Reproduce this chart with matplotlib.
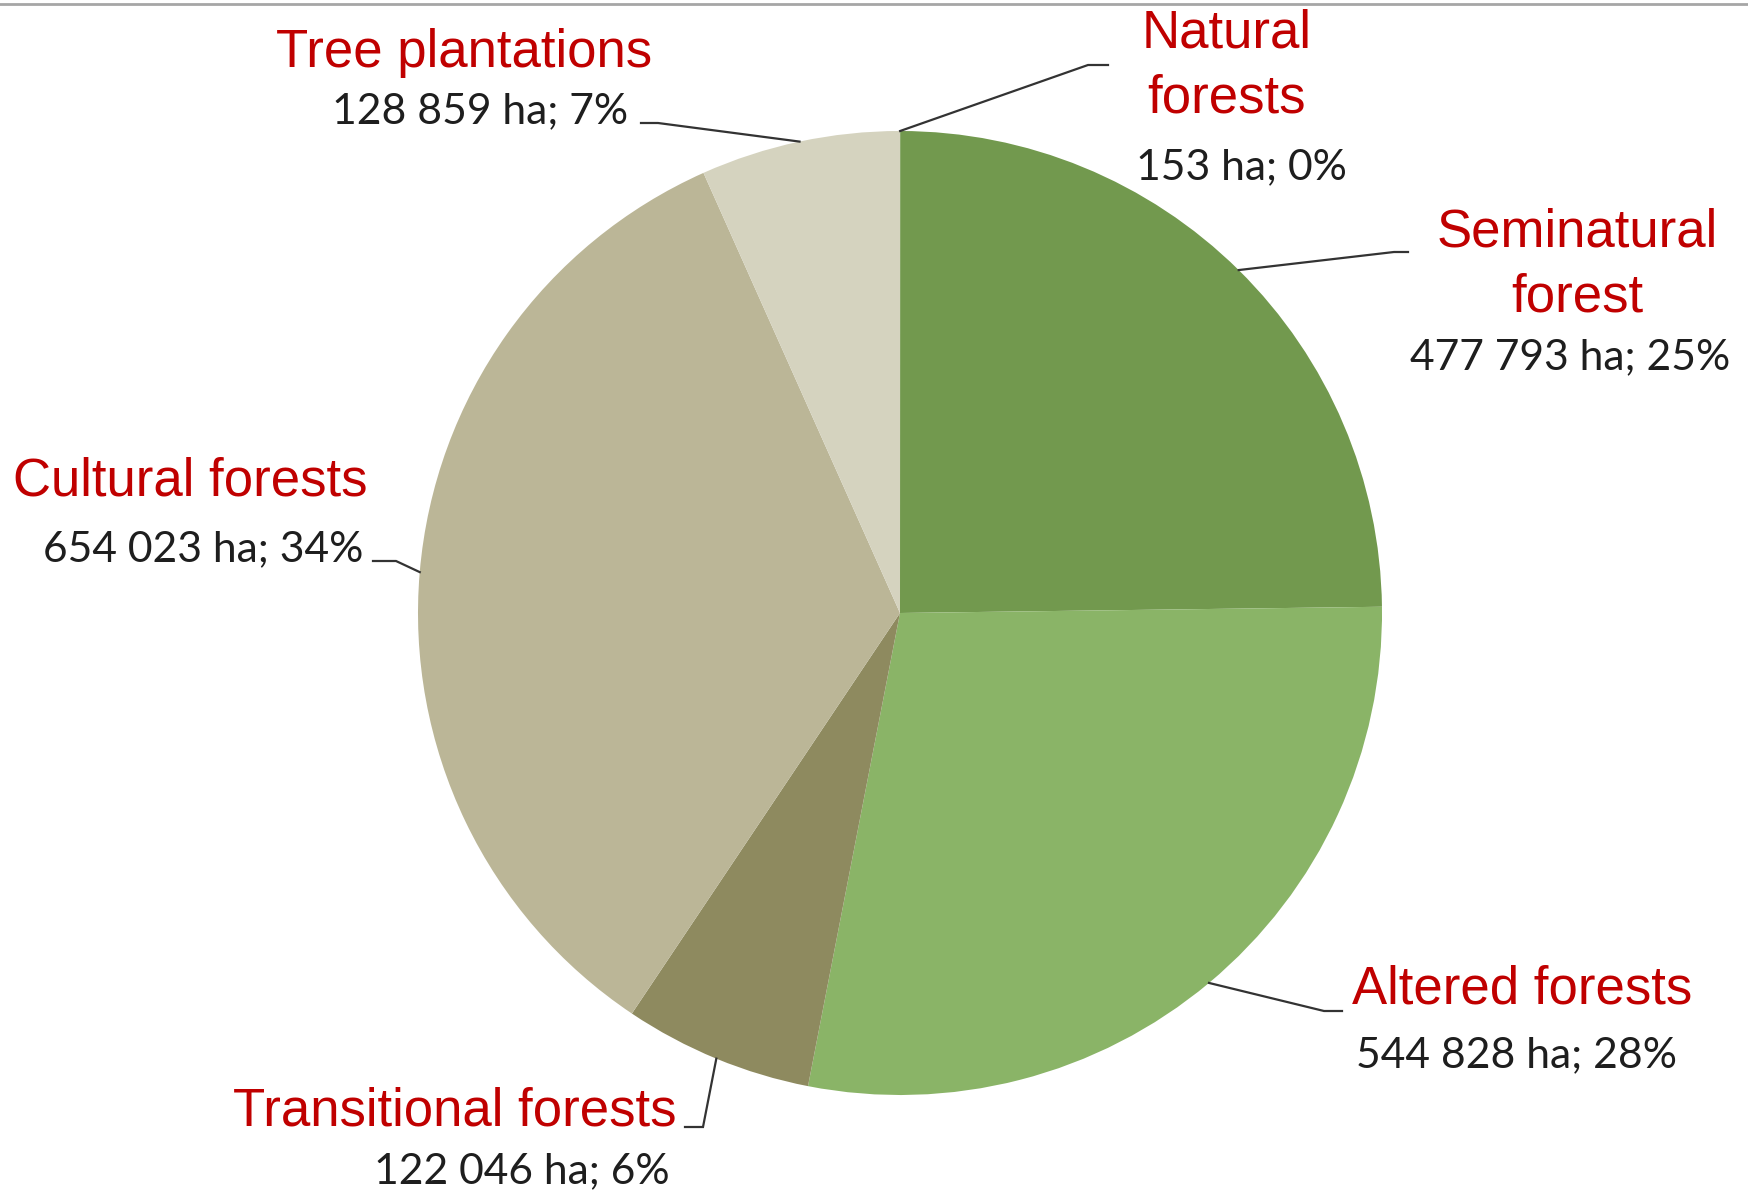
import matplotlib.pyplot as plt
import numpy as np

# forest categories, area in ha
categories = ['Natural\nforests', 'Seminatural\nforest', 'Altered forests',
              'Transitional forests', 'Cultural forests', 'Tree plantations']
areas = [153, 477793, 544828, 122046, 654023, 128859]
colors = ['#72994E', '#72994E', '#8AB467', '#8E8A5F', '#BBB697', '#D5D3BF']

W, H = 1749, 1193
RED = '#C00000'
DARK = '#1E1E1E'

fig = plt.figure(figsize=(W / 100, H / 100), dpi=100)
ax = fig.add_axes([0, 0, 1, 1])

cx, cy, r = 900, H - 613, 482
wedges, _ = ax.pie(areas, colors=colors, startangle=90, counterclock=False,
                   radius=r, center=(cx, cy),
                   wedgeprops=dict(linewidth=0))
ax.set_xlim(0, W)
ax.set_ylim(0, H)
ax.set_aspect('equal')
ax.axis('off')

total = sum(areas)
num_labels = []
for a in areas:
    s = f'{a:,}'.replace(',', ' ')
    num_labels.append(f'{s} ha; {round(100 * a / total):.0f}%')

# label layout in image pixel coords: (name x, name y, name ha, number x, number y, number ha)
layout = [
    (1227, 66, 'center', 1241, 167, 'center'),
    (1577, 265, 'center', 1570, 357, 'center'),
    (1352, 990, 'left', 1356, 1055, 'left'),
    (677, 1111, 'right', 670, 1171, 'right'),
    (13, 482, 'left', 363, 549, 'right'),
    (464, 53, 'center', 628, 111, 'right'),
]
# leader elbows (image coords): bend point, end point
elbows = [
    ((1088, 65), (1108, 65)),
    ((1394, 252), (1408, 252)),
    ((1324, 1011), (1342, 1011)),
    ((703, 1127), (685, 1127)),
    ((396, 561), (373, 561)),
    ((658, 123), (641, 123)),
]

for i, w in enumerate(wedges):
    nx, ny, nha, vx, vy, vha = layout[i]
    ax.text(nx, H - ny, categories[i], ha=nha, va='center', color=RED,
            fontsize=38, family='Liberation Sans', linespacing=1.36,
            multialignment='center')
    ax.text(vx, H - vy, num_labels[i], ha=vha, va='center', color=DARK,
            fontsize=30.7, family='Lato')
    ang = np.deg2rad((w.theta1 + w.theta2) / 2)
    px, py = cx + r * np.cos(ang), cy + r * np.sin(ang)
    (bx, by), (ex, ey) = elbows[i]
    ax.plot([px, bx, ex], [py, H - by, H - ey], color='#333333', lw=1.6,
            solid_joinstyle='miter')

# gray rule at the top
ax.plot([0, W], [H - 4, H - 4], color='#A6A6A6', lw=2)

fig.savefig('out.png', dpi=100)
